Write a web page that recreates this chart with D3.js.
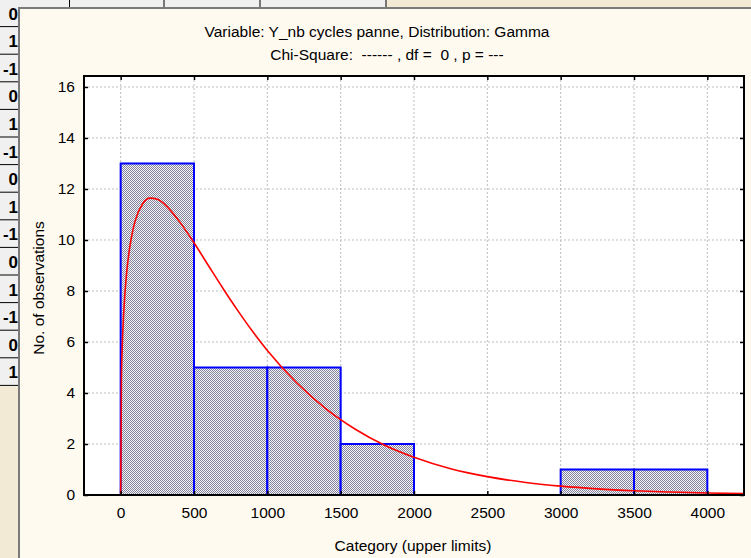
<!DOCTYPE html>
<html><head><meta charset="utf-8">
<script src="https://cdn.jsdelivr.net/npm/d3@7"></script>
<style>html,body{margin:0;padding:0;overflow:hidden;background:#f3ead6}</style>
</head><body>
<script>
// ---- data ----
const binStarts = [0, 500, 1000, 1500, 2000, 2500, 3000, 3500];
const binEnds   = [500, 1000, 1500, 2000, 2500, 3000, 3500, 4000];
const counts    = [13, 5, 5, 2, 0, 0, 1, 1];
const xTicks = [0, 500, 1000, 1500, 2000, 2500, 3000, 3500, 4000];
const yTicks = [0, 2, 4, 6, 8, 10, 12, 14, 16];
// fitted Gamma curve (expected frequencies)
const curveX = [-250, 0, 5, 10, 20, 40, 60, 80, 100, 150, 200, 250, 300, 400, 500, 600, 700, 800, 900, 1000, 1200, 1400, 1600, 1800, 2000, 2250, 2500, 2750, 3000, 3250, 3500, 3750, 4000, 4250];
const curveY = [0, 0, 4.52, 5.68, 7.07, 8.67, 9.64, 10.30, 10.77, 11.42, 11.64, 11.60, 11.40, 10.73, 9.89, 8.98, 8.08, 7.22, 6.41, 5.67, 4.40, 3.38, 2.58, 1.95, 1.48, 1.03, 0.72, 0.50, 0.348, 0.241, 0.166, 0.115, 0.079, 0.054];
const title1 = "Variable: Y_nb cycles panne, Distribution: Gamma";
const title2 = "Chi-Square:  ------ , df =  0 , p = ---";
const xLabel = "Category (upper limits)";
const yLabel = "No. of observations";
// background table (partially hidden behind the graph window)
const tableRowLabels = ["0","1","-1","0","1","-1","0","1","-1","0","1","-1","0","1"];

const W = 751, H = 558;
const FS = 15.5;
const fontF = "Arial, 'Liberation Sans', sans-serif";
const svg = d3.select("body").append("svg").attr("width", W).attr("height", H)
  .style("font-family", fontF);

// ---- background spreadsheet ----
svg.append("rect").attr("x",0).attr("y",0).attr("width",W).attr("height",H).attr("fill","#f3ead6");
const rowH = 27.6, row0 = -2;
svg.append("rect").attr("x",0).attr("y",0).attr("width",386).attr("height",26).attr("fill","#f0f0f0");
svg.append("rect").attr("x",0).attr("y",0).attr("width",19).attr("height",row0 + rowH*14 + 2).attr("fill","#f0f0f0");
const bg = svg.append("g");
tableRowLabels.forEach((t,i)=>{
  const yy = row0 + rowH*(i+1) + 1;
  bg.append("line").attr("x1",0).attr("x2",i===0?386:19).attr("y1",yy).attr("y2",yy).attr("stroke","#000").attr("stroke-width",1);
  bg.append("text").attr("x", 18).attr("y", yy - 7).attr("text-anchor","end")
    .attr("font-size",17).attr("font-weight","bold").attr("fill","#000").text(t);
});
[69.5,164,260,386].forEach(xx=>{
  bg.append("line").attr("x1",xx).attr("x2",xx).attr("y1",0).attr("y2",26).attr("stroke","#000").attr("stroke-width",1);
});
[[116,"0"],[211,"0"],[328,"000"]].forEach(([xx,t])=>{
  bg.append("text").attr("x",xx).attr("y",20).attr("text-anchor","middle").attr("font-size",17).attr("font-weight","bold").text(t);
});

// ---- graph window ----
svg.append("rect").attr("x",19).attr("y",8).attr("width",W).attr("height",H)
  .attr("fill","#fffaf0").attr("stroke","#7a7a7a").attr("stroke-width",2);

const L = 84, R = 744, T = 76, B = 495;
const x = d3.scaleLinear().domain([-250, 4250]).range([L, R]);
const y = d3.scaleLinear().domain([0, 16.43]).range([B, T]);

svg.append("rect").attr("x",L).attr("y",T).attr("width",R-L).attr("height",B-T).attr("fill","#fff");

// pattern
const defs = svg.append("defs");
const pat = defs.append("pattern").attr("id","dots").attr("width",2).attr("height",2).attr("patternUnits","userSpaceOnUse");
pat.append("rect").attr("width",2).attr("height",2).attr("fill","#f4f4f7");
pat.append("rect").attr("x",0).attr("y",0).attr("width",1).attr("height",1).attr("fill","#84849e");
pat.append("rect").attr("x",1).attr("y",1).attr("width",1).attr("height",1).attr("fill","#84849e");

// grid
const grid = svg.append("g").attr("stroke","#bdbdbd").attr("stroke-dasharray","2,2").attr("stroke-width",1);
xTicks.forEach(v=>grid.append("line").attr("x1",x(v)).attr("x2",x(v)).attr("y1",T).attr("y2",B));
yTicks.filter(v=>v>0).forEach(v=>grid.append("line").attr("x1",L).attr("x2",R).attr("y1",y(v)).attr("y2",y(v)));

// bars
svg.append("g").selectAll("rect").data(counts.map((c,i)=>({s:binStarts[i],e:binEnds[i],c})).filter(d=>d.c>0))
  .join("rect")
  .attr("x",d=>x(d.s)).attr("y",d=>y(d.c)).attr("width",d=>x(d.e)-x(d.s)).attr("height",d=>y(0)-y(d.c))
  .attr("fill","url(#dots)").attr("stroke","#0000ff").attr("stroke-width",2);

// curve
const pts = curveX.map((v,i)=>[v,curveY[i]]);
svg.append("path").datum(pts)
  .attr("d", d3.line().x(d=>x(d[0])).y(d=>y(d[1])).curve(d3.curveMonotoneX))
  .attr("fill","none").attr("stroke","#ff0000").attr("stroke-width",1.6);

// axes frame
svg.append("rect").attr("x",L).attr("y",T).attr("width",R-L).attr("height",B-T)
  .attr("fill","none").attr("stroke","#000").attr("stroke-width",2);

// axes with inward ticks
const tl = 4;
svg.append("g").attr("transform",`translate(0,${B})`)
  .call(d3.axisBottom(x).tickValues(xTicks).tickSize(-tl).tickPadding(12).tickFormat(d3.format("d")))
  .call(g=>{g.select(".domain").remove(); g.selectAll("text").attr("font-size",FS).attr("font-family",fontF).attr("fill","#000"); g.selectAll("line").attr("stroke","#000").attr("stroke-width",1.5);});
svg.append("g").attr("transform",`translate(0,${T})`)
  .call(d3.axisTop(x).tickValues(xTicks).tickSize(-tl).tickFormat(""))
  .call(g=>{g.select(".domain").remove(); g.selectAll("line").attr("stroke","#000").attr("stroke-width",1.5);});
svg.append("g").attr("transform",`translate(${L},0)`)
  .call(d3.axisLeft(y).tickValues(yTicks).tickSize(-tl).tickPadding(9).tickFormat(d3.format("d")))
  .call(g=>{g.select(".domain").remove(); g.selectAll("text").attr("font-size",FS).attr("font-family",fontF).attr("fill","#000"); g.selectAll("line").attr("stroke","#000").attr("stroke-width",1.5);});
svg.append("g").attr("transform",`translate(${R},0)`)
  .call(d3.axisRight(y).tickValues(yTicks).tickSize(-tl).tickFormat(""))
  .call(g=>{g.select(".domain").remove(); g.selectAll("line").attr("stroke","#000").attr("stroke-width",1.5);});

// titles
svg.append("text").attr("x",377).attr("y",37).attr("text-anchor","middle").attr("font-size",FS).text(title1);
svg.append("text").attr("x",387).attr("y",60).attr("text-anchor","middle").attr("font-size",FS)
  .style("white-space","pre").attr("xml:space","preserve").text(title2);
svg.append("text").attr("x",413).attr("y",551).attr("text-anchor","middle").attr("font-size",FS).text(xLabel);
svg.append("text").attr("transform",`translate(44,288) rotate(-90)`).attr("text-anchor","middle").attr("font-size",FS).text(yLabel);
</script>
</body></html>
